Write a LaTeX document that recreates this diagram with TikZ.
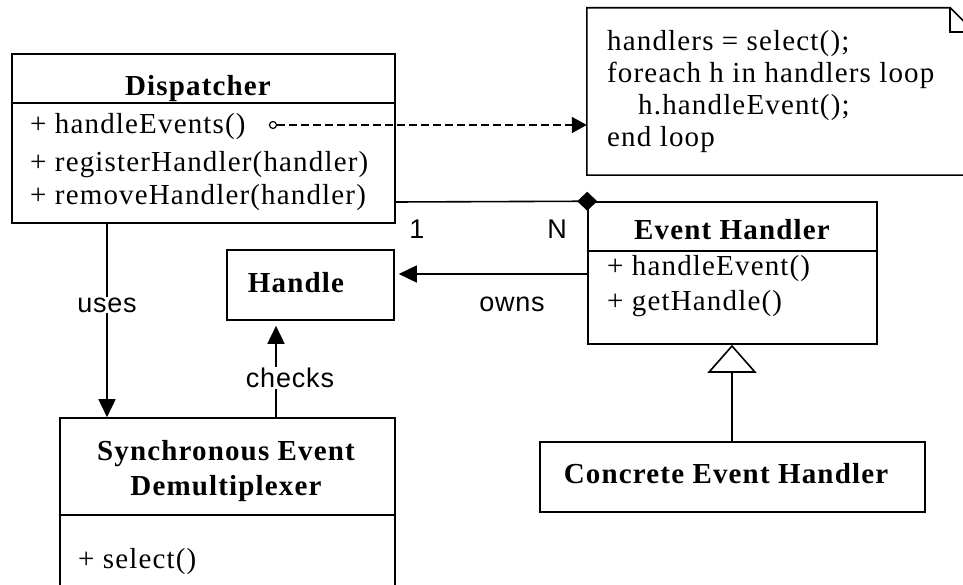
\documentclass[tikz,border=0pt]{standalone}
\usepackage{fontspec}
\setmainfont{Liberation Serif}[LetterSpace=4]
\newfontfamily\labelfont{Liberation Sans}[LetterSpace=3]
\usetikzlibrary{arrows.meta,calc}

\begin{document}
\begin{tikzpicture}[x=1pt,y=-1pt,
  box/.style={draw, line width=1.6pt, rectangle, inner sep=0pt},
  line/.style={line width=1.6pt},
  member/.style={anchor=base west, inner sep=0pt, font=\fontsize{29}{35}\selectfont},
  title/.style={anchor=base, inner sep=0pt, font=\fontsize{29}{35}\selectfont\bfseries},
  tag/.style={inner sep=1pt, fill=white, font=\labelfont\fontsize{27}{32}\selectfont},
  solidtip/.style={-{Triangle[length=18pt,width=17pt]}},
]
\useasboundingbox (0,0) rectangle (963,585);
\clip (0,0) rectangle (963,585);

% class boxes
\node[box, minimum width=383pt, minimum height=169pt] (disp) at (203.5,138.5) {};
\node[box, minimum width=289pt, minimum height=142pt] (eh) at (732.5,273) {};
\node[box, minimum width=167pt, minimum height=70pt] (handle) at (310.5,285) {};
\node[box, minimum width=335pt, minimum height=202pt] (sync) at (227.5,519) {};
\node[box, minimum width=385pt, minimum height=70pt] (conc) at (732.5,477) {};

% compartment separators
\draw[line] (disp.west |- 0,103) -- (disp.east |- 0,103);
\draw[line] (eh.west |- 0,251) -- (eh.east |- 0,251);
\draw[line] (sync.west |- 0,515) -- (sync.east |- 0,515);

% note with folded corner
\node[inner sep=0pt, minimum width=387pt, minimum height=167pt] (note) at (780.5,91.5) {};
\draw[line] (note.north west) -- ($(note.north east)+(-24,0)$) -- ($(note.north east)+(0,24)$)
  -- (note.south east) -- (note.south west) -- cycle;
\draw[line] ($(note.north east)+(-24,0)$) -- ++(0,24) -- ++(24,0);

% texts
\node[title] (dispT) at (198,96) {Dispatcher};
\node[member] (m1) at (30,134) {+ handleEvents()};
\node[member] (m2) at (30,172) {+ registerHandler(handler)};
\node[member] (m3) at (30,205) {+ removeHandler(handler)};

\node[member] (n1) at (607,51) {handlers = select();};
\node[member] (n2) at (607,83) {foreach h in handlers loop};
\node[member] (n3) at (638,115) {h.handleEvent();};
\node[member] (n4) at (607,147) {end loop};

\node[title] (ehT) at (732,240) {Event Handler};
\node[member] (e1) at (607,275) {+ handleEvent()};
\node[member] (e2) at (607,310) {+ getHandle()};

\node[title] (handleT) at (296,292) {Handle};

\node[title] (syncT1) at (226,460) {Synchronous Event};
\node[title] (syncT2) at (226,495) {Demultiplexer};
\node[member] (s1) at (78,568) {+ select()};

\node[title] (concT) at (726,483) {Concrete Event Handler};

% connectors
\node[circle, draw, line width=1.2pt, minimum size=7pt, inner sep=0pt] (hook) at (273,125) {};
\draw[line, dash pattern=on 8pt off 4pt, -{Triangle[length=15pt,width=16pt]}] (hook) -- (note.west |- hook);

\draw[line, -{Diamond[length=20pt,width=19pt]}] (disp.east |- 0,202) -- ($(eh.north west)+(10,0)$);
\node[tag, fill=none] (one) at (417,229) {1};
\node[tag, fill=none] (many) at (557,229) {N};

\draw[line, solidtip] (disp.south -| 107,0) -- (sync.north -| 107,0)
  node[tag, pos=0.42] (uses) {uses};

\draw[line, solidtip] (sync.north -| 276,0) -- ($(handle.south -| 276,0)+(0,5)$);
\node[tag] (checks) at (290,378) {checks};

\draw[line, solidtip] (eh.west |- 0,274) -- ($(handle.east |- 0,274)+(4,0)$);
\node[tag] (owns) at (512,304) {owns};

\draw[line, -{Triangle[open, length=28pt, width=49pt]}] (conc.north -| 732,0) -- (eh.south -| 732,0);
\end{tikzpicture}
\end{document}
